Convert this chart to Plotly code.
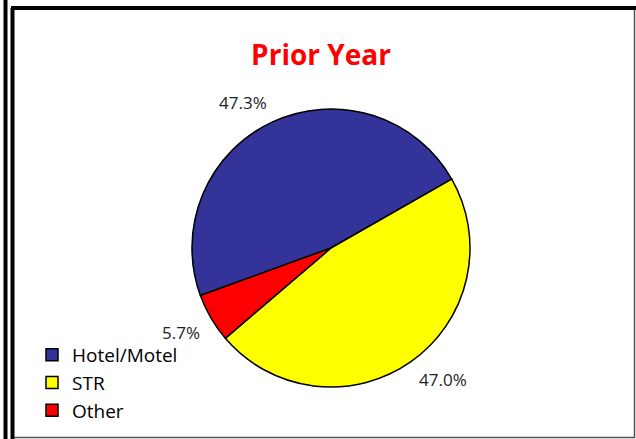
import numpy as np
import plotly.graph_objects as go

labels = ["Hotel/Motel", "STR", "Other"]
values = [47.3, 47.0, 5.7]
colors = ["#333399", "#FFFF00", "#FF0000"]
title_text = "Prior Year"

W, H = 636, 439
ROTATION = 250  # degrees clockwise from 12 o'clock where the first slice starts
px_x0, px_x1, px_y0, px_y1 = 192, 470, 109, 387  # pie box in pixels

fig = go.Figure(go.Pie(
    labels=labels,
    values=values,
    marker=dict(colors=colors, line=dict(color="black", width=1.5)),
    sort=False,
    direction="clockwise",
    rotation=ROTATION,
    textinfo="none",
    domain=dict(x=[px_x0 / W, px_x1 / W], y=[(H - px_y1) / H, (H - px_y0) / H]),
    hoverinfo="label+percent",
))

# percentage labels placed just outside each slice, at the slice's mid angle
vals = np.array(values, dtype=float)
shares = vals / vals.sum()
cum = np.concatenate([[0], np.cumsum(shares)])
cx, cy = (px_x0 + px_x1) / 2, (px_y0 + px_y1) / 2
r = (px_x1 - px_x0) / 2
gap = 12
half_h = 8
annotations = []
for i, s in enumerate(shares):
    mid = np.deg2rad(ROTATION + 360 * (cum[i] + cum[i + 1]) / 2)
    ux, uy = np.sin(mid), -np.cos(mid)
    lx = cx + (r + gap) * ux
    ly = cy + (r + gap) * uy + np.sign(uy) * half_h
    annotations.append(dict(
        x=lx / W, y=1 - ly / H, xref="paper", yref="paper",
        text=f"{s * 100:.1f}%", showarrow=False,
        xanchor="left" if ux > 0 else "right",
        yanchor="middle",
        borderpad=0,
        font=dict(family="Open Sans", size=17, color="#222"),
    ))

fig.update_layout(
    width=W, height=H,
    margin=dict(l=0, r=0, t=0, b=0),
    paper_bgcolor="white",
    plot_bgcolor="white",
    title=dict(text="<b>" + title_text + "</b>", x=321 / W, xanchor="center",
               y=1 - 55 / H, yanchor="middle",
               font=dict(family="Open Sans", size=28, color="#FF0000")),
    legend=dict(x=32 / W, y=1 - 336 / H, xanchor="left", yanchor="top",
                font=dict(family="Open Sans", size=19, color="black"),
                itemwidth=30, tracegroupgap=0, bgcolor="rgba(0,0,0,0)"),
    annotations=annotations,
    shapes=[
        dict(type="line", xref="paper", yref="paper", x0=5.5 / W, x1=5.5 / W, y0=0, y1=1,
             line=dict(color="black", width=4)),
        dict(type="rect", xref="paper", yref="paper", x0=12.5 / W, x1=634.5 / W,
             y0=1.5 / H, y1=1 - 8 / H, line=dict(color="#555", width=1.5)),
        dict(type="line", xref="paper", yref="paper", x0=12.5 / W, x1=12.5 / W, y0=0, y1=1 - 8 / H,
             line=dict(color="black", width=4)),
        dict(type="line", xref="paper", yref="paper", x0=11 / W, x1=636 / W, y0=1 - 8 / H, y1=1 - 8 / H,
             line=dict(color="black", width=4)),
    ],
)

fig.write_html("out.html", config={"displayModeBar": False},
               post_script="document.body.style.margin='0';document.body.style.padding='0';")
